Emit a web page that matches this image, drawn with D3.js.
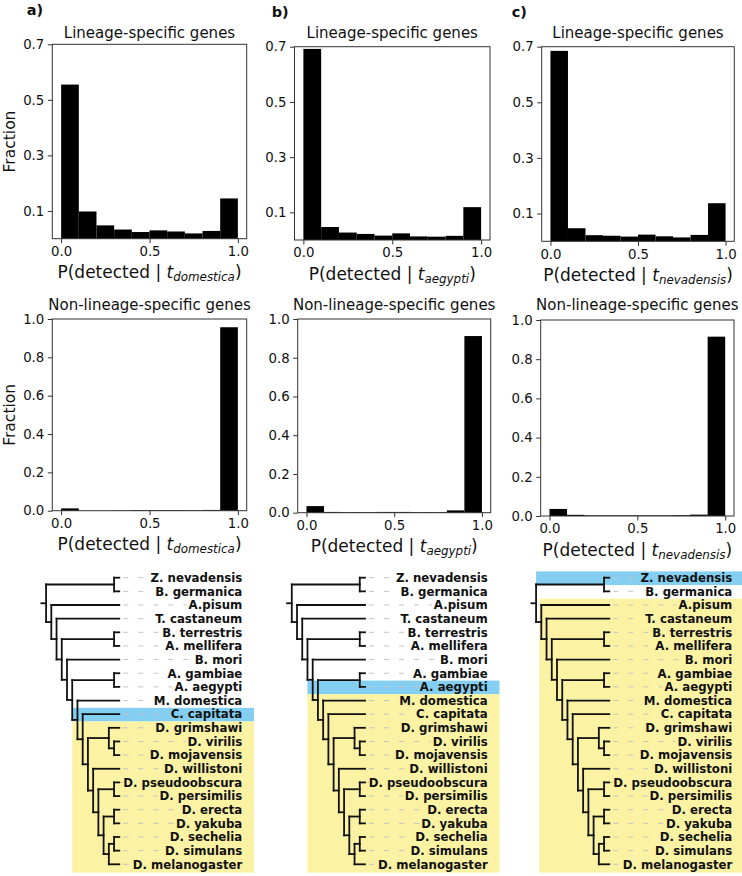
<!DOCTYPE html>
<html><head><meta charset="utf-8">
<script src="https://cdn.jsdelivr.net/npm/d3@7"></script>
<style>
body{margin:0;background:#fff}
svg{display:block}
text{font-family:"DejaVu Sans",sans-serif;fill:#111}
</style>
</head><body>
<svg id="fig" width="742" height="876"></svg>
<script>
// ---------------- DATA ----------------
const binEdges = [0,0.1,0.2,0.3,0.4,0.5,0.6,0.7,0.8,0.9,1.0];
const lsDomestica   = [0.555,0.098,0.048,0.033,0.024,0.030,0.026,0.019,0.028,0.145];
const lsAegypti     = [0.692,0.047,0.027,0.022,0.016,0.024,0.013,0.012,0.015,0.119];
const lsNevadensis  = [0.685,0.047,0.022,0.020,0.017,0.024,0.018,0.014,0.023,0.137];
const nlsDomestica  = [0.012,0.000,0.000,0.001,0.003,0.003,0.003,0.002,0.004,0.957];
const nlsAegypti    = [0.034,0.004,0.003,0.003,0.004,0.004,0.003,0.003,0.012,0.912];
const nlsNevadensis = [0.036,0.006,0.003,0.003,0.003,0.003,0.003,0.004,0.007,0.915];
const xTicks = [0, 0.5, 1.0];
const yTicksLS = [0.1, 0.3, 0.5, 0.7];
const yTicksNLS = [0, 0.2, 0.4, 0.6, 0.8, 1.0];
const panelLetters = ["a)", "b)", "c)"];
const focalSpecies = ["domestica", "aegypti", "nevadensis"];
const rowTitles = ["Lineage-specific genes", "Non-lineage-specific genes"];
const yLabel = "Fraction";
const treeNewick = "((Z. nevadensis,B. germanica),(A.pisum,(T. castaneum,((B. terrestris,A. mellifera),(B. mori,((A. gambiae,A. aegypti),(M. domestica,(C. capitata,((D. grimshawi,(D. virilis,D. mojavensis)),(D. willistoni,((D. pseudoobscura,D. persimilis),((D. erecta,D. yakuba),((D. sechelia,D. simulans),D. melanogaster))))))))))))";
const focalLeaf = ["C. capitata", "A. aegypti", "Z. nevadensis"];
const yellowRange = [["D. grimshawi","D. melanogaster"],["M. domestica","D. melanogaster"],["A.pisum","D. melanogaster"]];

const lsData = [lsDomestica, lsAegypti, lsNevadensis];
const nlsData = [nlsDomestica, nlsAegypti, nlsNevadensis];

// ---------------- LAYOUT ----------------
const svg = d3.select("#fig");
const boxesTop = [[52.3,246.7,44.3,238.7],[294.5,490,46.7,240],[541.7,734.3,46.7,241.3]];
const boxesMid = [[52.3,246.7,319,510.7],[297.7,490.7,319,512.7],[540.7,734,320,516]];
const titleBase = [38, 310];
const letterPos = [[26.7,15],[271.7,17],[511.7,16.7]];
const BLUE = "#84cff1", YELLOW = "#fbf3a3";

function drawHist(box, values, yDomain, yTicks, title, titleY, focal, showYLabel){
  const [x0,x1,y0,y1] = box;
  const xs = d3.scaleLinear().domain([-0.05,1.05]).range([x0,x1]);
  const ys = d3.scaleLinear().domain(yDomain).range([y1,y0]);
  const g = svg.append("g");
  g.selectAll("rect.bar").data(values).join("rect")
    .attr("x", (d,i)=>xs(binEdges[i]))
    .attr("width", (d,i)=>xs(binEdges[i+1])-xs(binEdges[i]))
    .attr("y", d=>ys(d))
    .attr("height", d=>ys(0)-ys(d))
    .attr("fill","#000");
  g.append("rect").attr("x",x0).attr("y",y0).attr("width",x1-x0).attr("height",y1-y0)
    .attr("fill","none").attr("stroke","#333").attr("stroke-width",1);
  const xa = g.append("g").attr("transform",`translate(0,${y1})`)
    .call(d3.axisBottom(xs).tickValues(xTicks).tickFormat(d3.format(".1f")).tickSize(4.5).tickPadding(3.5));
  xa.select(".domain").remove();
  xa.selectAll("line").attr("stroke","#333");
  xa.selectAll("text").attr("font-size",13.3).attr("fill","#111").attr("font-family","DejaVu Sans");
  const ya = g.append("g").attr("transform",`translate(${x0},0)`)
    .call(d3.axisLeft(ys).tickValues(yTicks).tickFormat(d3.format(".1f")).tickSize(4.5).tickPadding(3.5));
  ya.select(".domain").remove();
  ya.selectAll("line").attr("stroke","#333");
  ya.selectAll("text").attr("font-size",13.3).attr("fill","#111").attr("font-family","DejaVu Sans");
  g.append("text").attr("x",(x0+x1)/2).attr("y",titleY).attr("text-anchor","middle")
    .attr("font-size",15).text(title);
  const xl = g.append("text").attr("x",(x0+x1)/2).attr("y",y1+39.5).attr("text-anchor","middle")
    .attr("font-size",17).style("white-space","pre");
  xl.append("tspan").text("P(detected | ");
  xl.append("tspan").attr("font-style","italic").text("t");
  xl.append("tspan").attr("font-style","italic").attr("font-size",11.9).attr("dy",3).text(focal);
  xl.append("tspan").attr("dy",-3).text(")");
  if(showYLabel){
    g.append("text").attr("transform",`translate(15,${(y0+y1)/2}) rotate(-90)`)
      .attr("text-anchor","middle").attr("font-size",15.5).text(yLabel);
  }
}

for(let p=0;p<3;p++){
  drawHist(boxesTop[p], lsData[p], [0,0.7], yTicksLS, rowTitles[0], titleBase[0], focalSpecies[p], p===0);
  drawHist(boxesMid[p], nlsData[p], [0,1.0], yTicksNLS, rowTitles[1], titleBase[1], focalSpecies[p], p===0);
  svg.append("text").attr("x",letterPos[p][0]).attr("y",letterPos[p][1])
    .attr("font-family","Liberation Sans").attr("font-weight","bold").attr("font-size",14.5)
    .text(panelLetters[p]);
}

// ---------------- TREES ----------------
function parseNewick(s){
  let i=0;
  function node(){
    if(s[i]==='('){
      i++; const ch=[node()];
      while(s[i]===','){ i++; ch.push(node()); }
      i++; return {children:ch};
    }
    let j=i; while(i<s.length && !",()".includes(s[i])) i++;
    return {name:s.slice(j,i).trim()};
  }
  return node();
}
const treeData = parseNewick(treeNewick);

const treeCfg = [
  {leafX:119.3, labelR:242.3, hlRight:254,   blueH:9,  yellowOff:0},
  {leafX:365.0, labelR:487.7, hlRight:499.5, blueH:11, yellowOff:0},
  {leafX:609.3, labelR:732.3, hlRight:742,   blueH:14, yellowOff:3.3}
];
const STEP = 5.23;

for(let p=0;p<3;p++){
  const cfg = treeCfg[p];
  const root = d3.hierarchy(treeData);
  const leaves = root.leaves();
  const nL = leaves.length;
  const ys = d3.scaleLinear().domain([0,nL-1]).range([577.7,864.3]);
  const xs = d3.scaleLinear().domain([0,root.height]).range([cfg.leafX, cfg.leafX-root.height*STEP]);
  leaves.forEach((l,i)=>{ l.yy = ys(i); });
  root.eachAfter(n=>{ if(n.children){ n.yy=(n.children[0].yy+n.children[n.children.length-1].yy)/2; } n.xx=xs(n.height); });
  const g = svg.append("g");
  const half = (ys(1)-ys(0))/2;
  const idx = name=>leaves.findIndex(l=>l.data.name===name);
  const bi = idx(focalLeaf[p]);
  const hx = xs(cfg.blueH);
  g.append("rect").attr("x",hx).attr("width",cfg.hlRight-hx)
    .attr("y",ys(bi)-half+0.5).attr("height",2*half).attr("fill",BLUE);
  const ya0 = idx(yellowRange[p][0]), ya1 = idx(yellowRange[p][1]);
  g.append("rect").attr("x",hx+cfg.yellowOff).attr("width",cfg.hlRight-hx-cfg.yellowOff)
    .attr("y",ys(ya0)-half+0.5).attr("height",ys(ya1)-ys(ya0)+2*half+1).attr("fill",YELLOW);
  const labels = g.selectAll("text.leaf").data(leaves).join("text")
    .attr("x",cfg.labelR).attr("y",d=>d.yy+4.3).attr("text-anchor","end")
    .attr("font-weight","bold").attr("font-size",11.75).text(d=>d.data.name);
  labels.each(function(d){
    const w = this.getComputedTextLength();
    g.insert("line","text").attr("x1",cfg.leafX+4).attr("x2",cfg.labelR-w-2)
      .attr("y1",d.yy).attr("y2",d.yy).attr("stroke","#c4c4c4").attr("stroke-width",1)
      .attr("stroke-dasharray","5,10");
  });
  const segs = [];
  root.each(n=>{
    if(n.children){
      segs.push([n.xx, n.children[0].yy, n.xx, n.children[n.children.length-1].yy]);
    }
    if(n.parent){ segs.push([n.parent.xx, n.yy, n.xx, n.yy]); }
    else { segs.push([n.xx-STEP*0.9, n.yy, n.xx, n.yy]); }
  });
  g.selectAll("line.br").data(segs).join("line")
    .attr("x1",d=>d[0]).attr("y1",d=>d[1]).attr("x2",d=>d[2]).attr("y2",d=>d[3])
    .attr("stroke","#111").attr("stroke-width",1.8).attr("stroke-linecap","square");
}
</script>
</body></html>
